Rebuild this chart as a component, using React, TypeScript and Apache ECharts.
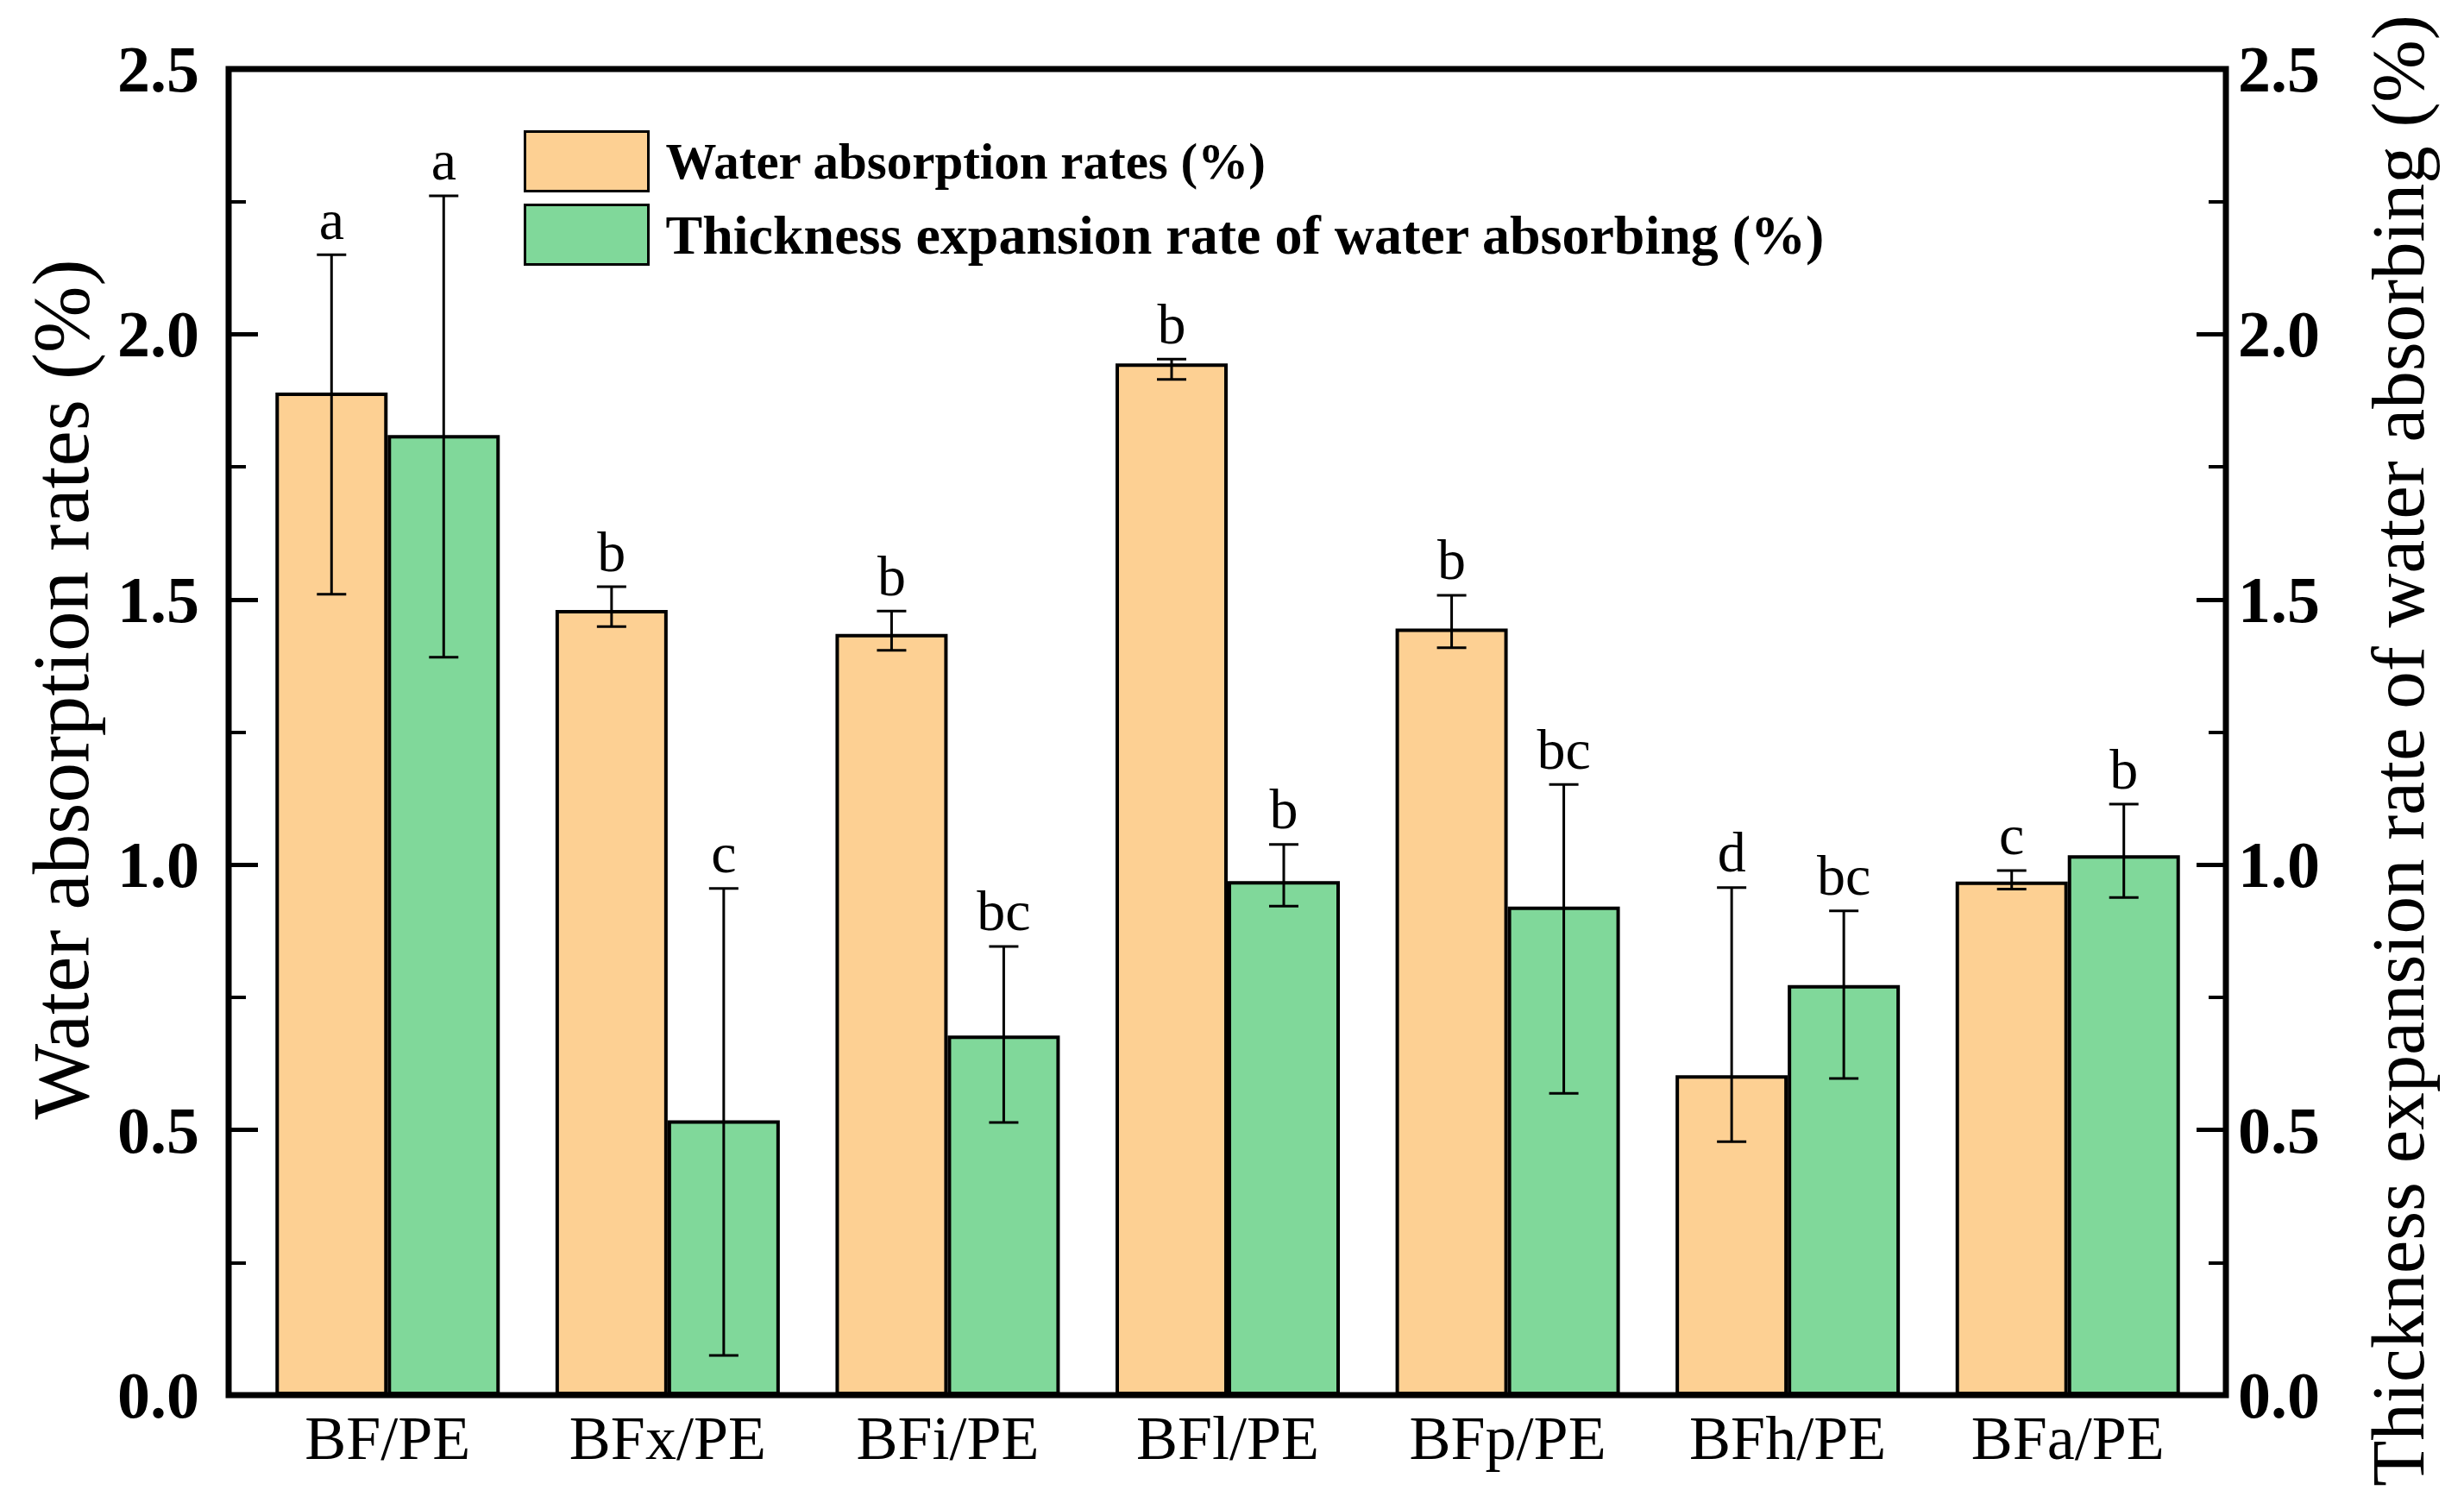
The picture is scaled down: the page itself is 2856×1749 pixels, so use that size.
import { useEffect, useRef } from 'react';
import * as echarts from 'echarts';

const categories = ['BF/PE', 'BFx/PE', 'BFi/PE', 'BFl/PE', 'BFp/PE', 'BFh/PE', 'BFa/PE'];

// Water absorption rates (%) - bar height, error bar ends, significance letters
const waterAbs = [1.89, 1.48, 1.435, 1.945, 1.445, 0.603, 0.968];
const waterAbsLow = [1.51, 1.449, 1.404, 1.915, 1.409, 0.478, 0.954];
const waterAbsHigh = [2.15, 1.524, 1.478, 1.953, 1.508, 0.957, 0.989];
const waterAbsLetters = ['a', 'b', 'b', 'b', 'b', 'd', 'c'];

// Thickness expansion rate of water absorbing (%)
const thickness = [1.81, 0.518, 0.678, 0.969, 0.921, 0.773, 1.018];
const thicknessLow = [1.391, 0.075, 0.514, 0.922, 0.569, 0.597, 0.938];
const thicknessHigh = [2.261, 0.955, 0.846, 1.038, 1.151, 0.913, 1.114];
const thicknessLetters = ['a', 'c', 'bc', 'b', 'bc', 'bc', 'b'];

const Y_MIN = 0;
const Y_MAX = 2.5;
const Y_STEP = 0.5;

const NAME_WATER = 'Water absorption rates (%)';
const NAME_THICK = 'Thickness expansion rate of water absorbing (%)';

const W = 2856;
const H = 1749;
// frame box
const BOX = { left: 265, right: 2580, top: 80, bottom: 1617 };
// plotting grid (category band is a bit narrower than the frame)
const GRID = { left: 287, right: W - 2559, top: BOX.top, bottom: H - BOX.bottom };
const BAR_WIDTH = 130;
const CAP = 17;
const SERIF = "'Liberation Serif', 'Times New Roman', serif";

function errorSeries(
  name: string,
  low: number[],
  high: number[],
  letters: string[],
  side: number,
  yAxisIndex: number,
) {
  return {
    type: 'custom',
    name,
    yAxisIndex,
    z: 5,
    silent: true,
    data: categories.map((_, i) => [i, low[i], high[i]]),
    encode: { x: 0, y: [1, 2] },
    renderItem: (_params: any, api: any) => {
      const i = api.value(0);
      const lo = api.coord([i, api.value(1)]);
      const hi = api.coord([i, api.value(2)]);
      const x = lo[0] + (side * BAR_WIDTH) / 2;
      const lineStyle = { stroke: '#000', lineWidth: 3 };
      return {
        type: 'group',
        children: [
          { type: 'line', shape: { x1: x, y1: lo[1], x2: x, y2: hi[1] }, style: lineStyle },
          { type: 'line', shape: { x1: x - CAP, y1: hi[1], x2: x + CAP, y2: hi[1] }, style: lineStyle },
          { type: 'line', shape: { x1: x - CAP, y1: lo[1], x2: x + CAP, y2: lo[1] }, style: lineStyle },
          {
            type: 'text',
            x,
            y: hi[1] - 8,
            style: {
              text: letters[i],
              fontFamily: SERIF,
              fontSize: 66,
              fill: '#000',
              align: 'center',
              verticalAlign: 'bottom',
            },
          },
        ],
      };
    },
  };
}

export default function App() {
  const chartRef = useRef<HTMLDivElement>(null);

  useEffect(() => {
    document.body.style.margin = '0';
    if (!chartRef.current) return;
    const chart = echarts.init(chartRef.current, undefined, { renderer: 'svg' });

    const valueAxis = (position: 'left' | 'right', offset: number, margin: number) => ({
      type: 'value',
      position,
      offset,
      min: Y_MIN,
      max: Y_MAX,
      interval: Y_STEP,
      axisLine: { show: false },
      axisTick: { show: true, inside: true, length: 34, lineStyle: { color: '#000', width: 5 } },
      minorTick: { show: true, splitNumber: 2, length: 20, lineStyle: { color: '#000', width: 4 } },
      splitLine: { show: false },
      axisLabel: {
        margin,
        color: '#000',
        fontFamily: SERIF,
        fontWeight: 'bold',
        fontSize: 76,
        formatter: (v: number) => v.toFixed(1),
      },
    });

    const legendText = { color: '#000', fontFamily: SERIF, fontWeight: 'bold' };

    const option: any = {
      animation: false,
      backgroundColor: '#fff',
      grid: GRID,
      legend: {
        orient: 'vertical',
        left: 607,
        top: 151,
        padding: 0,
        itemWidth: 143,
        itemHeight: 69,
        itemGap: 13,
        icon: 'rect',
        selectedMode: false,
        data: [NAME_WATER, NAME_THICK],
        itemStyle: { borderColor: '#000', borderWidth: 3 },
        formatter: (name: string) => (name === NAME_WATER ? `{w|${name}}` : `{t|${name}}`),
        textStyle: {
          ...legendText,
          fontSize: 60,
          padding: [0, 0, 0, 15],
          rich: {
            w: { ...legendText, fontSize: 59 },
            t: { ...legendText, fontSize: 64 },
          },
        },
      },
      xAxis: {
        type: 'category',
        data: categories,
        axisLine: { show: false },
        axisTick: { show: false },
        axisLabel: { margin: 14, color: '#000', fontFamily: SERIF, fontSize: 72 },
      },
      yAxis: [
        valueAxis('left', GRID.left - BOX.left, 34),
        valueAxis('right', BOX.right - (W - GRID.right), 14),
      ],
      series: [
        {
          type: 'bar',
          name: NAME_WATER,
          data: waterAbs,
          yAxisIndex: 0,
          barWidth: BAR_WIDTH,
          barGap: '0%',
          itemStyle: { color: '#FDD093', borderColor: '#000', borderWidth: 4 },
        },
        {
          type: 'bar',
          name: NAME_THICK,
          data: thickness,
          yAxisIndex: 1,
          barWidth: BAR_WIDTH,
          barGap: '0%',
          itemStyle: { color: '#80D89A', borderColor: '#000', borderWidth: 4 },
        },
        errorSeries('waterErr', waterAbsLow, waterAbsHigh, waterAbsLetters, -1, 0),
        errorSeries('thickErr', thicknessLow, thicknessHigh, thicknessLetters, 1, 1),
      ],
      graphic: [
        {
          type: 'rect',
          z: 100,
          shape: {
            x: BOX.left,
            y: BOX.top,
            width: BOX.right - BOX.left,
            height: BOX.bottom - BOX.top,
          },
          style: { fill: 'none', stroke: '#000', lineWidth: 7 },
        },
        {
          type: 'text',
          x: 70,
          y: 799,
          rotation: Math.PI / 2,
          style: {
            text: 'Water absorption rates (%)',
            fontFamily: SERIF,
            fontSize: 93,
            fill: '#000',
            align: 'center',
            verticalAlign: 'middle',
            textAlign: 'center',
            textVerticalAlign: 'middle',
          },
        },
        {
          type: 'text',
          x: 2779,
          y: 870,
          rotation: Math.PI / 2,
          style: {
            text: 'Thickness expansion rate of water absorbing (%)',
            fontFamily: SERIF,
            fontSize: 87,
            fill: '#000',
            align: 'center',
            verticalAlign: 'middle',
            textAlign: 'center',
            textVerticalAlign: 'middle',
          },
        },
      ],
    };

    chart.setOption(option);
    return () => {
      chart.dispose();
    };
  }, []);

  return <div ref={chartRef} style={{ width: `${W}px`, height: `${H}px` }} />;
}
